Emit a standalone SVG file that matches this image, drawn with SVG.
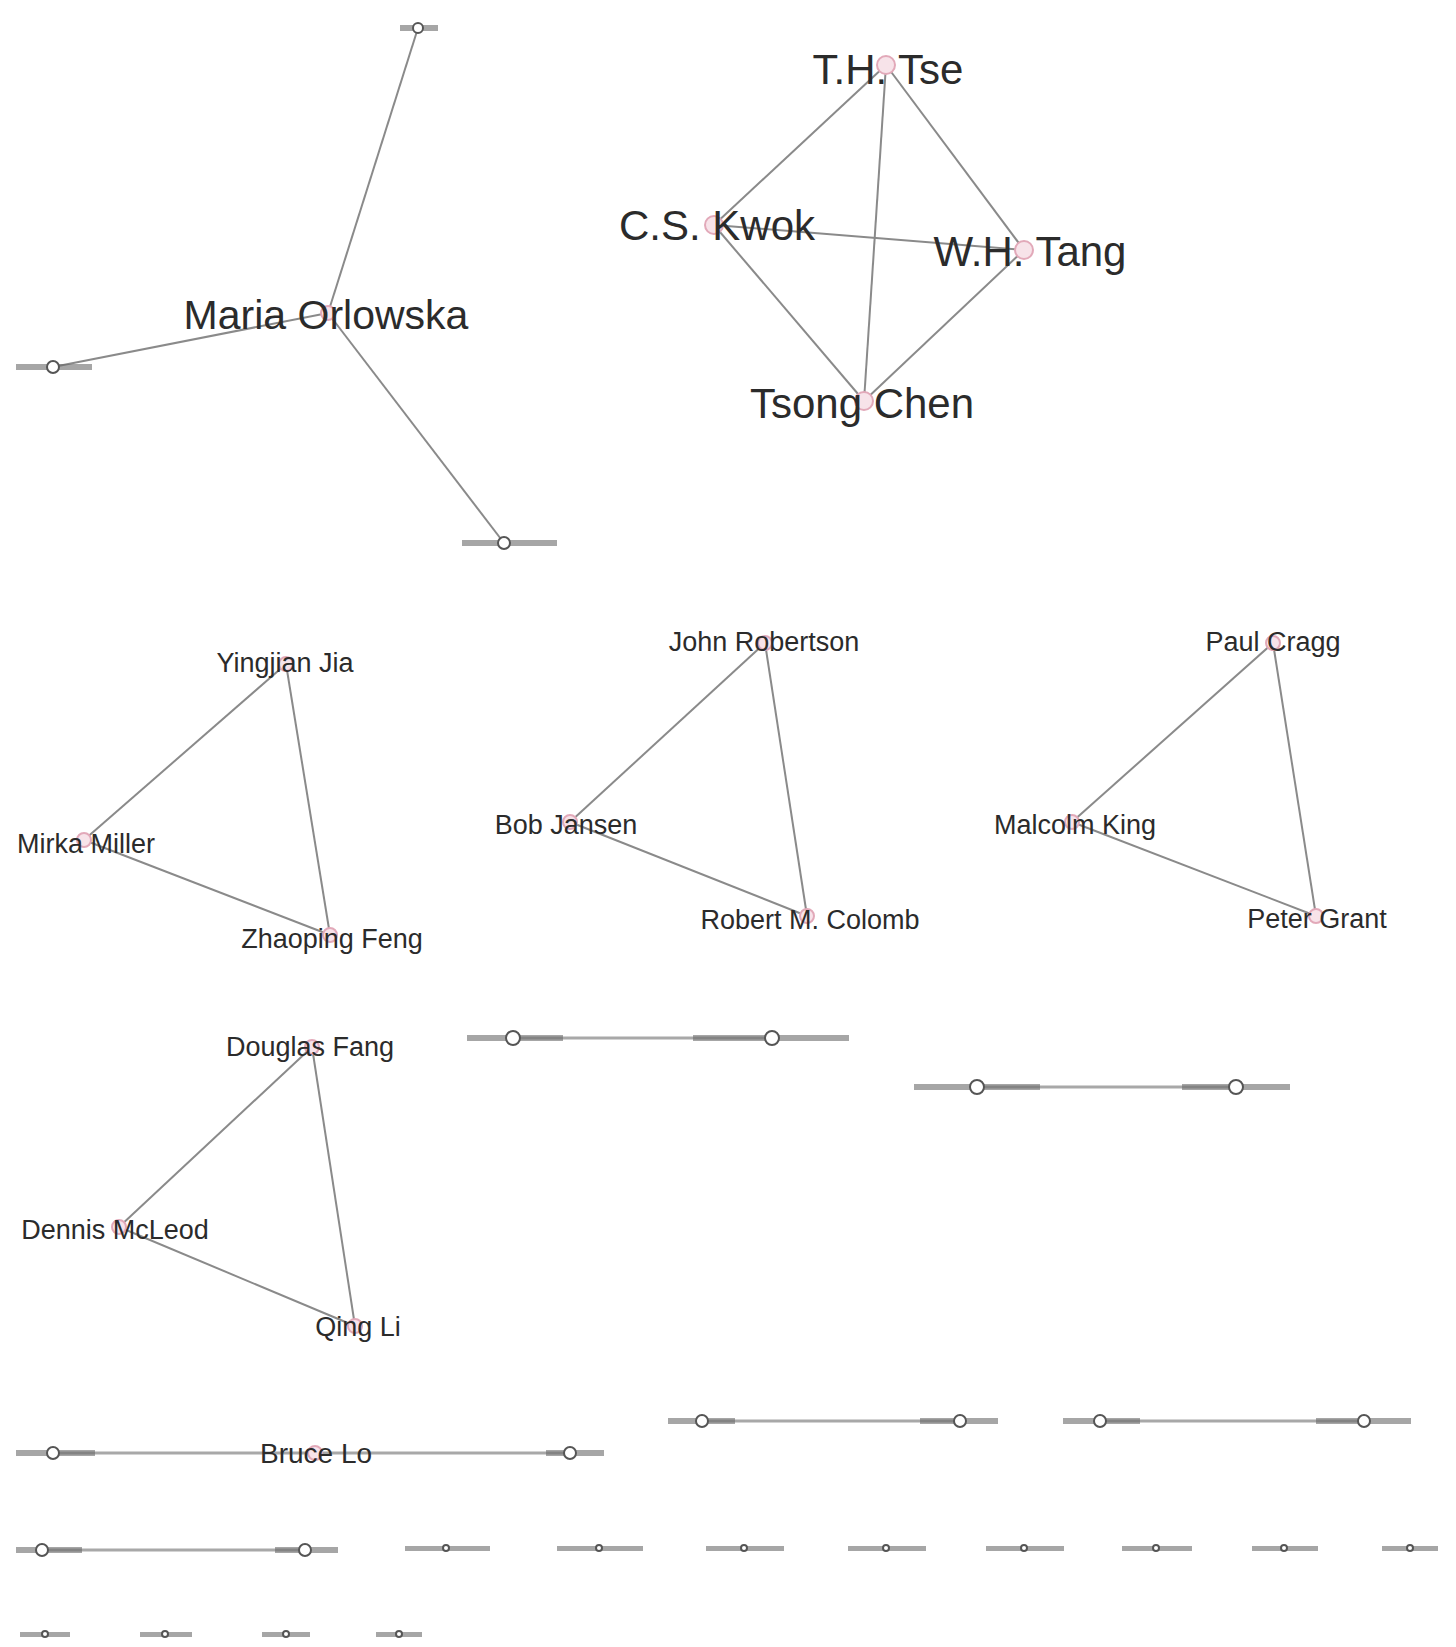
<svg xmlns="http://www.w3.org/2000/svg" width="1456" height="1647" viewBox="0 0 1456 1647">
<style>
  .bg{fill:#ffffff}
  .edge{stroke:#8a8a8a;stroke-width:2;fill:none}
  .edge2{stroke:#a8a8a8;stroke-width:3;fill:none}
  .big{fill:#f7e3e9;stroke:#e2a9b9;stroke-width:2}
  .tiny{fill:#ffffff;stroke:#555555;stroke-width:2}
  .smudge{fill:#6a6a6a;opacity:0.6}
  .lbl{font-family:"Liberation Sans",Arial,sans-serif;fill:#2b2b2b;text-anchor:middle}
  .l41{font-size:41px}
  .l42{font-size:42px}
  .l27{font-size:27px}
  .l28{font-size:28px}
</style>
<rect class="bg" x="0" y="0" width="1456" height="1647"/>
<g id="connectors">
  <line class="edge" x1="328" y1="313" x2="418" y2="28"/>
  <line class="edge" x1="328" y1="313" x2="53" y2="367"/>
  <line class="edge" x1="328" y1="313" x2="504" y2="543"/>
  <line class="edge" x1="886" y1="65" x2="714" y2="225"/>
  <line class="edge" x1="886" y1="65" x2="1024" y2="250"/>
  <line class="edge" x1="886" y1="65" x2="864" y2="401"/>
  <line class="edge" x1="714" y1="225" x2="1024" y2="250"/>
  <line class="edge" x1="714" y1="225" x2="864" y2="401"/>
  <line class="edge" x1="1024" y1="250" x2="864" y2="401"/>
  <line class="edge" x1="286" y1="664" x2="84" y2="840"/>
  <line class="edge" x1="286" y1="664" x2="330" y2="935"/>
  <line class="edge" x1="84" y1="840" x2="330" y2="935"/>
  <line class="edge" x1="765" y1="643" x2="570" y2="822"/>
  <line class="edge" x1="765" y1="643" x2="807" y2="916"/>
  <line class="edge" x1="570" y1="822" x2="807" y2="916"/>
  <line class="edge" x1="1273" y1="643" x2="1072" y2="822"/>
  <line class="edge" x1="1273" y1="643" x2="1316" y2="916"/>
  <line class="edge" x1="1072" y1="822" x2="1316" y2="916"/>
  <line class="edge" x1="312" y1="1047" x2="119" y2="1227"/>
  <line class="edge" x1="312" y1="1047" x2="355" y2="1326"/>
  <line class="edge" x1="119" y1="1227" x2="355" y2="1326"/>
  <line class="edge2" x1="513" y1="1038" x2="772" y2="1038"/>
  <line class="edge2" x1="977" y1="1087" x2="1236" y2="1087"/>
  <line class="edge2" x1="53" y1="1453" x2="570" y2="1453"/>
  <line class="edge2" x1="702" y1="1421" x2="960" y2="1421"/>
  <line class="edge2" x1="1100" y1="1421" x2="1364" y2="1421"/>
  <line class="edge2" x1="42" y1="1550" x2="305" y2="1550"/>
</g>

<g id="node-maria-orlowska"><circle class="big" cx="328" cy="313" r="7"/><text class="lbl l41" x="326" y="329">Maria Orlowska</text></g>
<g id="node-c1-top"><rect class="smudge" x="400" y="25" width="38" height="6"/><circle class="tiny" cx="418" cy="28" r="5"/></g>
<g id="node-c1-left"><rect class="smudge" x="16" y="364" width="76" height="6"/><circle class="tiny" cx="53" cy="367" r="6"/></g>
<g id="node-c1-br"><rect class="smudge" x="462" y="540" width="95" height="6"/><circle class="tiny" cx="504" cy="543" r="6"/></g>

<g id="node-th-tse"><circle class="big" cx="886" cy="65" r="9"/><text class="lbl l42" x="888" y="84">T.H. Tse</text></g>
<g id="node-cs-kwok"><circle class="big" cx="714" cy="225" r="9"/><text class="lbl l42" x="717" y="240">C.S. Kwok</text></g>
<g id="node-wh-tang"><circle class="big" cx="1024" cy="250" r="9"/><text class="lbl l42" x="1030" y="266">W.H. Tang</text></g>
<g id="node-tsong-chen"><circle class="big" cx="864" cy="401" r="9"/><text class="lbl l42" x="862" y="418">Tsong Chen</text></g>

<g id="node-yingjian-jia"><circle class="big" cx="286" cy="664" r="7"/><text class="lbl l27" x="285" y="672">Yingjian Jia</text></g>
<g id="node-mirka-miller"><circle class="big" cx="84" cy="840" r="7"/><text class="lbl l27" x="86" y="853">Mirka Miller</text></g>
<g id="node-zhaoping-feng"><circle class="big" cx="330" cy="935" r="7"/><text class="lbl l27" x="332" y="948">Zhaoping Feng</text></g>

<g id="node-john-robertson"><circle class="big" cx="765" cy="643" r="7"/><text class="lbl l27" x="764" y="651">John Robertson</text></g>
<g id="node-bob-jansen"><circle class="big" cx="570" cy="822" r="7"/><text class="lbl l27" x="566" y="834">Bob Jansen</text></g>
<g id="node-robert-colomb"><circle class="big" cx="807" cy="916" r="7"/><text class="lbl l27" x="810" y="929">Robert M. Colomb</text></g>

<g id="node-paul-cragg"><circle class="big" cx="1273" cy="643" r="7"/><text class="lbl l27" x="1273" y="651">Paul Cragg</text></g>
<g id="node-malcolm-king"><circle class="big" cx="1072" cy="822" r="7"/><text class="lbl l27" x="1075" y="834">Malcolm King</text></g>
<g id="node-peter-grant"><circle class="big" cx="1316" cy="916" r="7"/><text class="lbl l27" x="1317" y="928">Peter Grant</text></g>

<g id="node-douglas-fang"><circle class="big" cx="312" cy="1047" r="7"/><text class="lbl l27" x="310" y="1056">Douglas Fang</text></g>
<g id="node-dennis-mcleod"><circle class="big" cx="119" cy="1227" r="7"/><text class="lbl l27" x="115" y="1239">Dennis McLeod</text></g>
<g id="node-qing-li"><circle class="big" cx="355" cy="1326" r="7"/><text class="lbl l27" x="358" y="1336">Qing Li</text></g>

<g id="node-pa-1"><rect class="smudge" x="467" y="1035" width="96" height="6"/><circle class="tiny" cx="513" cy="1038" r="7"/></g>
<g id="node-pa-2"><rect class="smudge" x="693" y="1035" width="156" height="6"/><circle class="tiny" cx="772" cy="1038" r="7"/></g>
<g id="node-pb-1"><rect class="smudge" x="914" y="1084" width="126" height="6"/><circle class="tiny" cx="977" cy="1087" r="7"/></g>
<g id="node-pb-2"><rect class="smudge" x="1182" y="1084" width="108" height="6"/><circle class="tiny" cx="1236" cy="1087" r="7"/></g>

<g id="node-bl-left"><rect class="smudge" x="16" y="1450" width="79" height="6"/><circle class="tiny" cx="53" cy="1453" r="6"/></g>
<g id="node-bruce-lo"><circle class="big" cx="315" cy="1453" r="7"/><text class="lbl l28" x="316" y="1463">Bruce Lo</text></g>
<g id="node-bl-right"><rect class="smudge" x="546" y="1450" width="58" height="6"/><circle class="tiny" cx="570" cy="1453" r="6"/></g>

<g id="node-pc-1"><rect class="smudge" x="668" y="1418" width="67" height="6"/><circle class="tiny" cx="702" cy="1421" r="6"/></g>
<g id="node-pc-2"><rect class="smudge" x="920" y="1418" width="78" height="6"/><circle class="tiny" cx="960" cy="1421" r="6"/></g>
<g id="node-pd-1"><rect class="smudge" x="1063" y="1418" width="77" height="6"/><circle class="tiny" cx="1100" cy="1421" r="6"/></g>
<g id="node-pd-2"><rect class="smudge" x="1316" y="1418" width="95" height="6"/><circle class="tiny" cx="1364" cy="1421" r="6"/></g>

<g id="node-pe-1"><rect class="smudge" x="16" y="1547" width="66" height="6"/><circle class="tiny" cx="42" cy="1550" r="6"/></g>
<g id="node-pe-2"><rect class="smudge" x="275" y="1547" width="63" height="6"/><circle class="tiny" cx="305" cy="1550" r="6"/></g>

<g id="node-iso-1"><rect class="smudge" x="405" y="1546" width="85" height="5"/><circle class="tiny" cx="446" cy="1548" r="3"/></g>
<g id="node-iso-2"><rect class="smudge" x="557" y="1546" width="86" height="5"/><circle class="tiny" cx="599" cy="1548" r="3"/></g>
<g id="node-iso-3"><rect class="smudge" x="706" y="1546" width="78" height="5"/><circle class="tiny" cx="744" cy="1548" r="3"/></g>
<g id="node-iso-4"><rect class="smudge" x="848" y="1546" width="78" height="5"/><circle class="tiny" cx="886" cy="1548" r="3"/></g>
<g id="node-iso-5"><rect class="smudge" x="986" y="1546" width="78" height="5"/><circle class="tiny" cx="1024" cy="1548" r="3"/></g>
<g id="node-iso-6"><rect class="smudge" x="1122" y="1546" width="70" height="5"/><circle class="tiny" cx="1156" cy="1548" r="3"/></g>
<g id="node-iso-7"><rect class="smudge" x="1252" y="1546" width="66" height="5"/><circle class="tiny" cx="1284" cy="1548" r="3"/></g>
<g id="node-iso-8"><rect class="smudge" x="1382" y="1546" width="56" height="5"/><circle class="tiny" cx="1410" cy="1548" r="3"/></g>

<g id="node-iso-9"><rect class="smudge" x="20" y="1632" width="50" height="5"/><circle class="tiny" cx="45" cy="1634" r="3"/></g>
<g id="node-iso-10"><rect class="smudge" x="140" y="1632" width="52" height="5"/><circle class="tiny" cx="165" cy="1634" r="3"/></g>
<g id="node-iso-11"><rect class="smudge" x="262" y="1632" width="48" height="5"/><circle class="tiny" cx="286" cy="1634" r="3"/></g>
<g id="node-iso-12"><rect class="smudge" x="376" y="1632" width="46" height="5"/><circle class="tiny" cx="399" cy="1634" r="3"/></g>
</svg>
